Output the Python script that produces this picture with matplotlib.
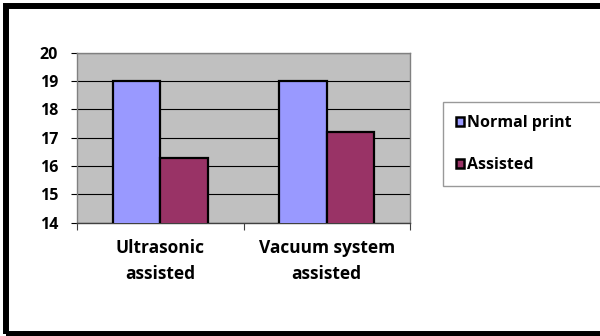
import matplotlib
matplotlib.use("Agg")
import matplotlib.pyplot as plt
from matplotlib.patches import Rectangle

categories = ["Ultrasonic\nassisted", "Vacuum system\nassisted"]
series_names = ["Normal print", "Assisted"]
normal_print = [19, 19]
assisted = [16.3, 17.2]
y_ticks = [14, 15, 16, 17, 18, 19, 20]

C_NORMAL, C_ASSIST = "#9999FF", "#993366"
FONT = ["Open Sans", "DejaVu Sans"]

plt.rcParams["font.family"] = FONT
plt.rcParams["font.weight"] = "bold"

fig = plt.figure(figsize=(6, 3.36), dpi=100)
ax = fig.add_axes([77 / 600, 1 - 222.7 / 336, 333 / 600, 170 / 336])
ax.set_facecolor("#C0C0C0")

w = 1 / 3.5
x = list(range(len(categories)))
b1 = ax.bar([i - w / 2 for i in x], normal_print, width=w, bottom=0,
            color=C_NORMAL, edgecolor="black", linewidth=1.6, zorder=3,
            label=series_names[0])
b2 = ax.bar([i + w / 2 for i in x], assisted, width=w, bottom=0,
            color=C_ASSIST, edgecolor="black", linewidth=1.6, zorder=3,
            label=series_names[1])

ax.set_ylim(14, 20)
ax.set_xlim(-0.5, len(categories) - 0.5)
ax.set_yticks(y_ticks)
ax.set_yticklabels([str(t) for t in y_ticks], fontsize=11.5, fontweight="bold")
ax.yaxis.grid(True, color="black", linewidth=0.8, zorder=1)
ax.set_axisbelow(True)

# tick marks on the category boundaries, labels in the middle
ax.set_xticks([i - 0.5 for i in range(len(categories) + 1)])
ax.set_xticklabels([])
ax.set_xticks(x, categories, minor=True)
ax.tick_params(axis="x", which="major", direction="out", length=5, width=0.8,
               color="#404040")
ax.tick_params(axis="x", which="minor", length=0, pad=12)
ax.tick_params(axis="y", direction="out", length=4.5, width=0.8, pad=9)
for t in ax.get_xticklabels(minor=True):
    t.set_fontsize(12.5)
    t.set_fontweight("bold")
    t.set_linespacing(1.55)

for side in ("top", "right", "left"):
    ax.spines[side].set_color("#808080")
    ax.spines[side].set_linewidth(1.0)
ax.spines["bottom"].set_color("#404040")
ax.spines["bottom"].set_linewidth(1.0)

leg = fig.legend(handles=[b1, b2], loc="upper left",
                 bbox_to_anchor=(443 / 600, 1 - 102 / 336, 0.3, 0.0),
                 mode="expand", frameon=True, fancybox=False, shadow=False,
                 prop={"family": FONT, "weight": "bold", "size": 11.5},
                 handlelength=0.5, handleheight=0.5, handletextpad=0.2,
                 labelspacing=1.65, borderpad=0.8, borderaxespad=0)
leg.get_frame().set_edgecolor("#808080")
leg.get_frame().set_linewidth(1.0)
for h in leg.legend_handles:
    h.set_linewidth(1.8)

# black frame round the chart (cut off on the right)
fig.add_artist(Rectangle((6 / 600, 2.5 / 336), 1.2, 1 - 2.5 / 336 - 6 / 336,
                         transform=fig.transFigure, fill=False,
                         edgecolor="black", linewidth=4.3))

fig.savefig("out.png", dpi=100)
